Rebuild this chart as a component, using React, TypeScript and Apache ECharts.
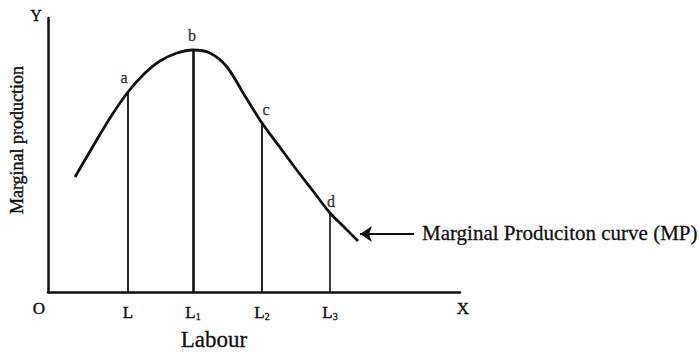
import React, { useEffect, useRef } from "react";
import * as echarts from "echarts";

// Labour (x) and marginal production (y) of the MP curve, in chart units
const curveLabour = [27, 44, 62, 80, 96, 112, 129, 145, 162, 179, 197, 214, 231, 248, 265, 282, 297, 310];
const curveMP = [115, 144, 174, 200, 218, 231, 239, 242, 239, 225, 196, 169, 146, 123, 101, 79, 64, 51];
// marked points a, b, c, d (indices into the curve)
const pointNames = ["a", "b", "c", "d"];
const pointIndex = [3, 7, 11, 15];
// x-axis labour levels under the points
const tickNames = ["L", "L1", "L2", "L3"];
// arrow pointing at curve end
const arrowFrom = [366, 58];
const arrowTo = [312, 58];
const xMax = 412;
const yMax = 274;

const SERIF = "'Liberation Serif', 'Times New Roman', 'DejaVu Serif', serif";
const INK = "#111";
const HEAVY = { textBorderColor: INK, textBorderWidth: 0.4 };

export default function App() {
  const ref = useRef<HTMLDivElement>(null);
  useEffect(() => {
    if (!ref.current) return;
    const chart = echarts.init(ref.current, undefined, { renderer: "svg" });
    const curve = curveLabour.map((x, i) => [x, curveMP[i]]);
    const tickValues = pointIndex.map((i) => curveLabour[i]);
    const dropWidths = [1.8, 2.6, 1.8, 1.6];
    const labelOffsets = [
      [-4, -15],
      [-1, -15],
      [4, -14],
      [1, -12],
    ];
    const fmtTick = (name: string) =>
      name.length > 1 ? `{m|${name[0]}}{s|${name.slice(1)}}` : `{m|${name}}`;
    const option: any = {
      animation: false,
      backgroundColor: "#fff",
      grid: { left: 48, top: 18, width: 412, height: 274, containLabel: false },
      xAxis: {
        type: "value",
        min: 0,
        max: xMax,
        axisLine: { show: true, onZero: false, lineStyle: { color: INK, width: 2.5 } },
        axisTick: { show: false },
        splitLine: { show: false },
        axisLabel: {
          show: true,
          customValues: tickValues,
          margin: 9,
          formatter: (v: number) => fmtTick(tickNames[tickValues.indexOf(v)] ?? ""),
          rich: {
            m: { fontSize: 17, fontFamily: SERIF, color: INK, lineHeight: 20, verticalAlign: "bottom", ...HEAVY },
            s: { fontSize: 10, fontFamily: SERIF, color: INK, lineHeight: 12, verticalAlign: "bottom", ...HEAVY, textBorderWidth: 0.3 },
          },
        },
      },
      yAxis: {
        type: "value",
        min: 0,
        max: yMax,
        axisLine: { show: true, onZero: false, lineStyle: { color: INK, width: 2.5 } },
        axisTick: { show: false },
        axisLabel: { show: false },
        splitLine: { show: false },
      },
      series: [
        {
          type: "line",
          data: curve,
          smooth: 0.3,
          showSymbol: false,
          lineStyle: { color: INK, width: 2.8 },
          z: 3,
        },
        {
          type: "lines",
          coordinateSystem: "cartesian2d",
          data: pointIndex.map((i, k) => ({
            coords: [
              [curveLabour[i], 0],
              [curveLabour[i], curveMP[i]],
            ],
            lineStyle: { color: INK, width: dropWidths[k], opacity: 1 },
          })),
          lineStyle: { color: INK, width: 1.8, opacity: 1 },
          z: 2,
        },
        {
          type: "lines",
          coordinateSystem: "cartesian2d",
          symbol: ["none", "arrow"],
          symbolSize: 12,
          data: [{ coords: [arrowFrom, arrowTo] }],
          lineStyle: { color: INK, width: 2, opacity: 1 },
          itemStyle: { color: INK, opacity: 1 },
          z: 4,
        },
        {
          type: "scatter",
          symbolSize: 0,
          clip: false,
          data: pointIndex.map((i, k) => ({
            value: [curveLabour[i], curveMP[i]],
            label: {
              show: true,
              formatter: pointNames[k],
              position: "inside",
              offset: labelOffsets[k],
              fontSize: 16,
              fontFamily: SERIF,
              color: INK,
              ...HEAVY,
            },
          })),
          z: 5,
        },
      ],
      graphic: [
        {
          type: "text",
          x: 36,
          y: 15,
          style: { text: "Y", font: `16px ${SERIF}`, fill: INK, stroke: INK, lineWidth: 0.4, textAlign: "center", textVerticalAlign: "middle" },
        },
        {
          type: "text",
          x: 39,
          y: 308,
          style: { text: "O", font: `17px ${SERIF}`, fill: INK, stroke: INK, lineWidth: 0.4, textAlign: "center", textVerticalAlign: "middle" },
        },
        {
          type: "text",
          x: 463,
          y: 308,
          style: { text: "X", font: `17px ${SERIF}`, fill: INK, stroke: INK, lineWidth: 0.4, textAlign: "center", textVerticalAlign: "middle" },
        },
        {
          type: "text",
          x: 214,
          y: 339,
          style: { text: "Labour", font: `23px ${SERIF}`, fill: INK, stroke: INK, lineWidth: 0.3, textAlign: "center", textVerticalAlign: "middle" },
        },
        {
          type: "text",
          x: 17,
          y: 140,
          rotation: Math.PI / 2,
          style: {
            text: "Marginal production",
            font: `18px ${SERIF}`,
            fill: INK,
            stroke: INK,
            lineWidth: 0.4,
            textAlign: "center",
            textVerticalAlign: "middle",
          },
        },
        {
          type: "text",
          x: 422,
          y: 233,
          style: {
            text: "Marginal Produciton curve (MP)",
            font: `21px ${SERIF}`,
            fill: INK,
            stroke: INK,
            lineWidth: 0.3,
            textAlign: "left",
            textVerticalAlign: "middle",
          },
        },
      ],
    };
    chart.setOption(option);
    return () => chart.dispose();
  }, []);
  return (
    <div
      ref={ref}
      style={{ position: "fixed", left: 0, top: 0, width: 699, height: 352, background: "#fff" }}
    />
  );
}
